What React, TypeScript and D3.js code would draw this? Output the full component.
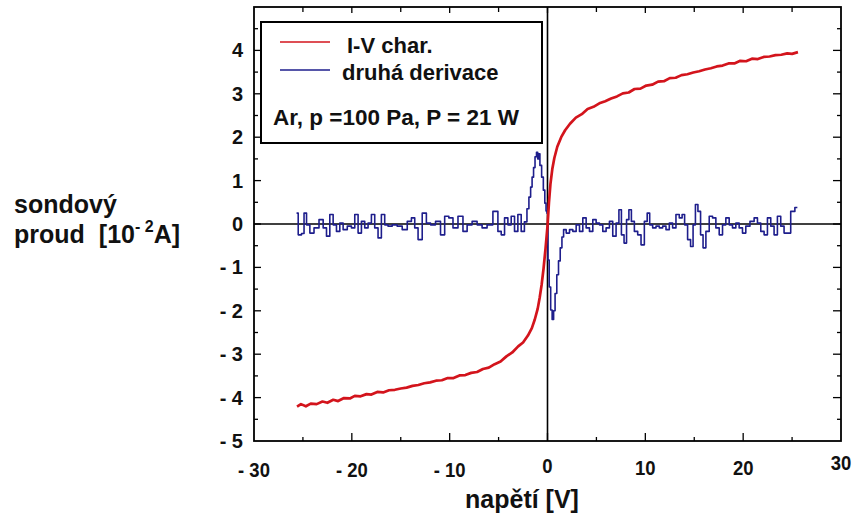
import React from 'react';
import * as d3 from 'd3';

// I-V characteristic (napětí [V], proud [10^-2 A])
const ivData: [number, number][] = [
  [-25.6, -4.21], [-25.2, -4.15], [-24.7, -4.20], [-24.2, -4.14], [-23.6, -4.15], [-23.0, -4.09],
  [-22.5, -4.12], [-21.9, -4.05], [-21.4, -4.08], [-20.8, -4.01], [-20.2, -4.02], [-19.7, -3.96],
  [-19.1, -3.97], [-18.5, -3.92], [-18.0, -3.93], [-17.4, -3.87], [-16.8, -3.88], [-16.2, -3.83],
  [-15.6, -3.82], [-15.0, -3.79], [-14.4, -3.77], [-13.8, -3.73], [-13.2, -3.71], [-12.6, -3.67],
  [-12.0, -3.65], [-11.4, -3.61], [-10.8, -3.60], [-10.2, -3.55], [-9.6, -3.55], [-9.0, -3.49],
  [-8.4, -3.48], [-7.8, -3.43], [-7.2, -3.41], [-6.6, -3.34], [-6.0, -3.31], [-5.4, -3.23],
  [-4.8, -3.17], [-4.2, -3.05], [-3.6, -2.96], [-3.0, -2.82], [-2.5, -2.73], [-2.0, -2.57],
  [-1.6, -2.40], [-1.3, -2.20], [-1.0, -1.95], [-0.8, -1.70], [-0.6, -1.40], [-0.4, -1.02],
  [-0.2, -0.56], [0.0, -0.05], [0.15, 0.50], [0.3, 0.92], [0.5, 1.28], [0.7, 1.52], [1.0, 1.78],
  [1.4, 2.00], [1.8, 2.16], [2.3, 2.31], [2.9, 2.45], [3.5, 2.53], [4.1, 2.65], [4.7, 2.70],
  [5.3, 2.78], [5.9, 2.83], [6.5, 2.89], [7.1, 2.94], [7.7, 3.01], [8.3, 3.03], [8.9, 3.11],
  [9.5, 3.12], [10.1, 3.19], [10.7, 3.21], [11.3, 3.28], [11.9, 3.29], [12.5, 3.36], [13.1, 3.37],
  [13.7, 3.43], [14.3, 3.45], [14.9, 3.49], [15.5, 3.52], [16.1, 3.56], [16.7, 3.59], [17.3, 3.63],
  [17.9, 3.65], [18.5, 3.70], [19.1, 3.70], [19.7, 3.76], [20.3, 3.75], [20.9, 3.81], [21.5, 3.80],
  [22.1, 3.85], [22.7, 3.86], [23.3, 3.89], [23.9, 3.90], [24.5, 3.93], [25.0, 3.92], [25.6, 3.96]
];

// druhá derivace (scaled)
const d2Data: [number, number][] = [
  [-25.65, 0.25], [-25.31, -0.25], [-24.97, -0.22], [-24.80, 0.25], [-24.46, -0.02], [-24.12, -0.21],
  [-23.61, -0.09], [-23.10, 0.10], [-22.76, -0.09], [-22.42, -0.28], [-22.08, 0.22], [-21.74, -0.02],
  [-21.40, -0.17], [-21.06, 0.02], [-20.72, -0.13], [-20.21, -0.05], [-19.87, -0.09], [-19.53, 0.22],
  [-19.19, -0.21], [-18.85, 0.06], [-18.51, -0.09], [-18.17, 0.02], [-17.83, 0.22], [-17.49, -0.09],
  [-17.15, -0.32], [-16.81, 0.22], [-16.47, -0.02], [-16.13, -0.05], [-15.62, -0.02], [-15.11, -0.05],
  [-14.59, -0.13], [-14.08, 0.06], [-13.74, 0.14], [-13.40, -0.09], [-13.06, -0.36], [-12.55, 0.25],
  [-12.21, 0.02], [-11.70, -0.02], [-11.19, 0.06], [-10.68, -0.25], [-10.34, 0.18], [-9.83, 0.14],
  [-9.49, -0.09], [-8.81, 0.18], [-8.47, -0.17], [-7.96, -0.02], [-7.45, 0.06], [-6.94, -0.02],
  [-6.43, -0.09], [-5.92, -0.02], [-5.24, 0.29], [-4.90, -0.17], [-4.56, -0.25], [-4.22, 0.14],
  [-3.88, -0.02], [-3.54, 0.18], [-3.20, -0.17], [-2.86, 0.22], [-2.52, -0.17],
  [-2.2, 0.05], [-2.0, 0.35], [-1.8, 0.62], [-1.65, 0.85], [-1.5, 1.08], [-1.35, 1.30], [-1.2, 1.55],
  [-1.05, 1.65], [-0.95, 1.50], [-0.85, 1.62], [-0.7, 1.35], [-0.5, 1.08], [-0.35, 0.78], [-0.2, 0.48],
  [-0.1, 0.30], [0.0, 0.25], [0.1, -0.83], [0.25, -1.45], [0.4, -1.98], [0.55, -2.2], [0.7, -2.0],
  [0.85, -1.6], [1.05, -1.17], [1.2, -0.85], [1.40, -0.55], [1.55, -0.30], [1.74, -0.13],
  [2.08, -0.21], [2.42, -0.13], [2.76, -0.17], [3.10, -0.02], [3.44, -0.17], [3.78, 0.14],
  [4.12, -0.09], [4.46, -0.17], [4.80, 0.10], [5.14, 0.02], [5.48, -0.02], [5.82, -0.17],
  [6.16, -0.09], [6.50, 0.06], [6.84, -0.28], [7.18, 0.02], [7.42, 0.33], [7.69, -0.25],
  [7.96, -0.44], [8.20, 0.10], [8.44, 0.33], [8.71, 0.06], [9.05, -0.17], [9.39, -0.25],
  [9.73, -0.48], [10.07, 0.06], [10.31, 0.25], [10.58, -0.02], [10.92, -0.09], [11.26, -0.05],
  [11.60, -0.09], [11.94, -0.05], [12.28, -0.13], [12.62, 0.02], [12.96, -0.09], [13.30, 0.22],
  [13.64, 0.14], [13.88, 0.22], [14.15, -0.02], [14.49, -0.36], [14.76, -0.52], [15.00, -0.02],
  [15.24, 0.45], [15.51, 0.29], [15.78, -0.25], [16.02, -0.55], [16.36, -0.17], [16.70, 0.18],
  [17.04, 0.14], [17.38, -0.09], [17.72, -0.25], [18.06, -0.02], [18.40, 0.14], [18.74, -0.02],
  [19.08, -0.09], [19.42, 0.02], [19.76, -0.09], [20.10, -0.21], [20.44, -0.05], [20.95, 0.06],
  [21.29, 0.14], [21.63, 0.02], [21.97, -0.17], [22.31, -0.25], [22.65, 0.14], [22.99, -0.05],
  [23.33, -0.25], [23.67, 0.18], [24.01, -0.05], [24.35, -0.21], [24.69, -0.21], [25.03, 0.29],
  [25.54, 0.38]
];

const xTicks = [-30, -20, -10, 0, 10, 20, 30];
const xTickLabels = ['- 30', '- 20', '- 10', '0', '10', '20', '30'];
const yTicks = [-5, -4, -3, -2, -1, 0, 1, 2, 3, 4];
const yTickLabels = ['- 5', '- 4', '- 3', '- 2', '- 1', '0', '1', '2', '3', '4'];

const legendItems = ['I-V char.', 'druhá derivace'];
const legendNote = 'Ar, p =100 Pa, P = 21 W';

const RED = '#d3141c';
const BLUE = '#1e1e8c';
const FONT = '"Liberation Sans", Arial, sans-serif';

const App = () => {
  const width = 854;
  const height = 522;
  const left = 254, right = 841, top = 7, bottom = 441;

  const x = d3.scaleLinear().domain([-30, 30]).range([left, right]);
  const y = d3.scaleLinear().domain([-5, 5]).range([bottom, top]);

  const line = d3.line<[number, number]>().x(d => x(d[0])).y(d => y(d[1]));
  const stepLine = d3.line<[number, number]>().x(d => x(d[0])).y(d => y(d[1])).curve(d3.curveStep);

  const xMinor = d3.range(-25, 30, 5).filter(v => v % 10 !== 0);
  const yMinor = d3.range(-4.5, 5, 1);

  // small baseline shifts seen in the original x labels
  const xLabelShift = (v: number) => (v === 0 ? -4 : v === 30 ? -7 : v > 0 ? -2 : 0);

  return (
    <svg width={width} height={height} style={{ position: 'absolute', left: 0, top: 0, background: '#fff' }}
      fontFamily={FONT} fontWeight="bold">
      {/* zero lines */}
      <line x1={left} x2={right} y1={y(0)} y2={y(0)} stroke="#000" strokeWidth={1.6} />
      <line x1={x(0)} x2={x(0)} y1={top} y2={bottom} stroke="#000" strokeWidth={1.6} />

      {/* ticks */}
      {xTicks.filter(v => v > -30 && v < 30).map(v => (
        <g key={'xt' + v}>
          <line x1={x(v)} x2={x(v)} y1={bottom} y2={bottom - 8} stroke="#000" strokeWidth={1.3} />
          <line x1={x(v)} x2={x(v)} y1={top} y2={top + 6} stroke="#000" strokeWidth={1.3} />
        </g>
      ))}
      {xMinor.map(v => (
        <g key={'xm' + v}>
          <line x1={x(v)} x2={x(v)} y1={bottom} y2={bottom - 4} stroke="#000" strokeWidth={1.3} />
          <line x1={x(v)} x2={x(v)} y1={top} y2={top + 5} stroke="#000" strokeWidth={1.3} />
        </g>
      ))}
      {yTicks.filter(v => v > -5).map(v => (
        <g key={'yt' + v}>
          <line x1={left} x2={left + 7} y1={y(v)} y2={y(v)} stroke="#000" strokeWidth={1.3} />
          <line x1={right} x2={right - 8} y1={y(v)} y2={y(v)} stroke="#000" strokeWidth={1.3} />
        </g>
      ))}
      {yMinor.map(v => (
        <g key={'ym' + v}>
          <line x1={left} x2={left + 4} y1={y(v)} y2={y(v)} stroke="#000" strokeWidth={1.3} />
          <line x1={right} x2={right - 4} y1={y(v)} y2={y(v)} stroke="#000" strokeWidth={1.3} />
        </g>
      ))}

      {/* series */}
      <path d={stepLine(d2Data) || ''} fill="none" stroke={BLUE} strokeWidth={1.6} strokeLinejoin="round" />
      <path d={line(ivData) || ''} fill="none" stroke={RED} strokeWidth={2.7} strokeLinejoin="round" />

      {/* frame */}
      <rect x={left} y={top} width={right - left} height={bottom - top} fill="none" stroke="#000" strokeWidth={1.8} />

      {/* tick labels */}
      {xTicks.map((v, i) => (
        <g key={'xl' + v} transform={`translate(${x(v)},${477 + xLabelShift(v)}) scale(0.88,1)`}>
          <text textAnchor="middle" fontSize={21} fill="#111">{xTickLabels[i]}</text>
        </g>
      ))}
      {yTicks.map((v, i) => (
        <text key={'yl' + v} x={243} y={y(v) + 7} textAnchor="end" fontSize={20} fill="#111">
          {yTickLabels[i]}
        </text>
      ))}

      {/* axis titles */}
      <text x={522} y={508} textAnchor="middle" fontSize={25} fill="#111">napětí [V]</text>
      <text x={14} y={213} fontSize={25} fill="#111">sondový</text>
      <text x={14} y={243} fontSize={25} fill="#111">
        proud
        <tspan dx={14}>[10</tspan>
        <tspan dy={-11} fontSize={16}>- 2</tspan>
        <tspan dy={11}>A]</tspan>
      </text>

      {/* legend */}
      <rect x={261} y={22} width={281} height={121} fill="#fff" stroke="#000" strokeWidth={2} />
      {legendItems.map((name, i) => (
        <g key={name}>
          <line x1={280} x2={330} y1={42 + i * 28} y2={42 + i * 28} stroke={i === 0 ? RED : BLUE} strokeWidth={1.6} />
          <text x={i === 0 ? 347 : 342} y={53 + i * 27} fontSize={22} fill="#111">{name}</text>
        </g>
      ))}
      <text x={273} y={125} fontSize={22.5} fill="#111">{legendNote}</text>
    </svg>
  );
};

export default App;
